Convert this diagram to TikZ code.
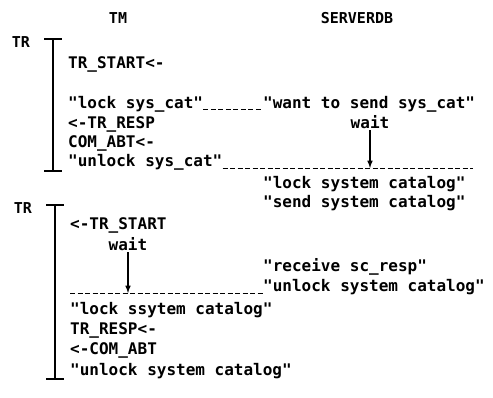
\documentclass[tikz,border=0pt]{standalone}
\usepackage{fontspec}
\setmonofont{DejaVu Sans Mono}
\begin{document}
\begin{tikzpicture}[x=1pt, y=-1pt, >=latex,
    txt/.style={font=\ttfamily\bfseries\fontsize{16}{19}\selectfont, inner sep=0pt, anchor=base west},
    hdr/.style={font=\ttfamily\bfseries\fontsize{15}{18}\selectfont, inner sep=0pt, anchor=base},
    waittxt/.style={txt, anchor=base},
    bar/.style={line width=1.5pt},
    dots/.style={dash pattern=on 5pt off 2.5pt, line width=0.9pt},
    waitarrow/.style={->, line width=1.5pt, shorten <=2pt}]
  \useasboundingbox (0,0) rectangle (493,397);
  \node[hdr] (tm) at (118,23) {TM};
  \node[hdr] (srv) at (357,23) {SERVERDB};
  % transaction brackets
  \foreach \n/\x/\t/\b/\l in {1/53/39/171/21, 2/55/205/379/23} {
    \node[hdr] (tr\n) at (\l,{\t+8}) {TR};
    \draw[bar] (\x,\t) -- (\x,\b);
    \draw[bar] (\x-9,\t) -- ++(18,0);
    \draw[bar] (\x-9,\b) -- ++(18,0);
  }
  % first transaction
  \foreach \n/\y/\s in {1/68/TR\_START<-, 2/108/"lock sys\_cat", 3/128/<-TR\_RESP, 4/147/COM\_ABT<-, 5/166/"unlock sys\_cat"}
    \node[txt] (a\n) at (68,\y) {\s};
  \node[txt] (want) at (263,108) {"want to send sys\_cat"};
  \node[waittxt] (wait1) at (370,128) {wait};
  \node[txt] (lockcat) at (263,188) {"lock system catalog"};
  \node[txt] (sendcat) at (263,207) {"send system catalog"};
  \coordinate (end1) at (473,168);
  \draw[dots] ([yshift=-1.5pt]a2.base east) -- ([yshift=-1.5pt]want.base west);
  \draw[dots] ([yshift=-2pt]a5.base east) -- (end1);
  \draw[waitarrow] (wait1.south) -- (wait1.south |- end1);
  % second transaction
  \foreach \n/\y/\s in {1/229/<-TR\_START, 2/314/"lock ssytem catalog", 3/334/TR\_RESP<-, 4/354/<-COM\_ABT, 5/375/"unlock system catalog"}
    \node[txt] (b\n) at (70,\y) {\s};
  \node[waittxt] (wait2) at (128,250) {wait};
  \node[txt] (recv) at (263,271) {"receive sc\_resp"};
  \node[txt] (unlockcat) at (263,291) {"unlock system catalog"};
  \coordinate (start2) at (70,293);
  \draw[dots] (start2) -- ([yshift=-2pt]unlockcat.base west);
  \draw[waitarrow] (wait2.south) -- (wait2.south |- start2);
\end{tikzpicture}
\end{document}
